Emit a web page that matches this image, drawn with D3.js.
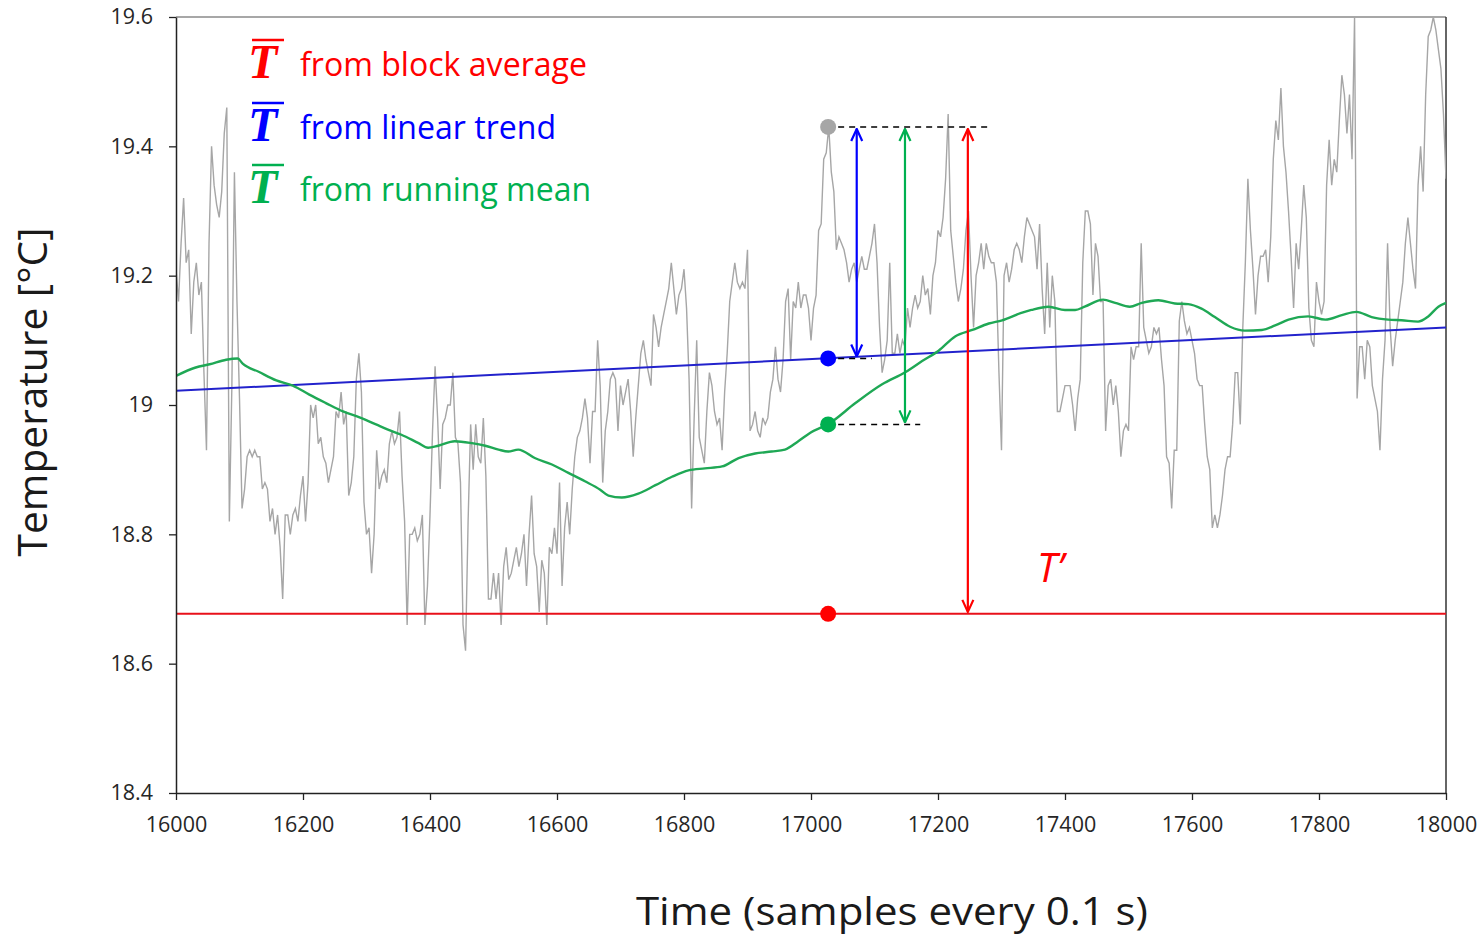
<!DOCTYPE html>
<html><head><meta charset="utf-8">
<script src="https://cdn.jsdelivr.net/npm/d3@7"></script>
<style>body{margin:0;background:#fff}svg{display:block}</style>
</head><body>
<svg id="chart" width="1482" height="941"></svg>
<script>
// ---------- DATA ----------
const sampleStart = 16000;
const sampleStep = 4;
const temperature = [
19.21,19.16,19.25,19.32,19.22,19.24,19.11,19.19,19.22,19.17,
19.19,19.05,18.93,19.25,19.40,19.34,19.31,19.29,19.33,19.42,
19.46,18.82,19.03,19.36,19.16,19.01,18.84,18.87,18.92,18.93,
18.92,18.93,18.92,18.92,18.87,18.88,18.87,18.82,18.84,18.80,
18.83,18.78,18.70,18.83,18.83,18.80,18.83,18.84,18.82,18.86,
18.89,18.82,18.88,19.00,18.98,19.00,18.94,18.95,18.92,18.91,
18.88,18.90,18.92,18.99,18.98,19.02,18.97,18.99,18.86,18.88,
18.92,19.04,19.08,19.02,18.85,18.80,18.81,18.74,18.80,18.93,
18.87,18.89,18.90,18.88,18.94,
18.96,18.94,18.95,18.99,18.89,18.82,18.66,18.80,18.80,18.81,
18.79,18.80,18.83,18.66,18.72,18.83,18.96,19.06,18.98,18.87,
18.97,18.98,19.00,19.00,19.05,18.95,18.94,18.88,18.66,18.62,
18.82,18.97,18.90,18.97,18.92,18.91,18.98,18.89,18.70,18.70,
18.74,18.70,18.74,18.66,18.75,18.78,18.73,18.74,18.76,18.78,
18.75,18.77,18.80,18.72,18.80,18.86,18.77,18.75,18.68,18.76,
18.74,18.66,18.78,18.77,18.81,18.77,18.88,18.72,18.81,18.85,
18.80,18.87,18.92,18.95,18.96,18.98,19.01,18.98,18.91,18.99,
18.99,19.10,19.03,
18.88,18.96,18.99,19.04,19.05,19.04,18.96,19.03,19.00,19.02,
19.04,18.99,18.92,18.98,19.03,19.08,19.10,19.07,19.05,19.03,
19.14,19.12,19.09,19.12,19.14,19.16,19.18,19.22,19.18,19.14,
19.17,19.18,19.21,19.15,19.04,18.84,18.98,19.10,18.95,18.93,
18.91,18.99,19.05,19.03,18.99,18.97,18.98,18.93,19.02,19.08,
19.16,19.19,19.22,19.19,19.18,19.19,19.18,19.24,18.96,18.97,
18.99,18.96,18.95,18.98,18.97,18.98,19.02,19.04,19.09,19.04,
19.02,19.07,19.16,19.18,19.07,19.16,19.15,19.19,19.15,19.17,
19.17,19.15,
19.10,19.15,19.17,19.27,19.28,19.38,19.39,19.43,19.36,19.33,
19.24,19.26,19.25,19.24,19.22,19.19,19.21,19.22,19.19,19.21,
19.23,19.21,19.21,19.23,19.25,19.28,19.22,19.12,19.05,19.07,
19.10,19.22,19.08,19.08,19.11,19.08,19.10,19.09,19.15,19.12,
19.15,19.17,19.15,19.16,19.20,19.17,19.18,19.14,19.20,19.22,
19.27,19.26,19.29,19.35,19.45,19.27,19.23,19.19,19.16,19.18,
19.21,19.27,19.30,19.20,19.12,19.20,19.22,19.25,19.21,19.25,
19.23,19.22,19.22,19.19,19.05,18.93,19.20,19.22,19.19,19.21,
19.24,19.25,19.24,
19.22,19.26,19.29,19.28,19.27,19.26,19.21,19.28,19.18,19.11,
19.22,19.12,19.20,19.16,18.99,18.99,19.01,19.03,19.03,19.03,
19.00,18.96,19.01,19.04,19.22,19.30,19.30,19.28,19.17,19.25,
19.23,19.16,19.16,18.96,19.03,19.04,19.00,19.03,18.99,18.92,
18.96,18.97,18.96,19.09,19.07,19.09,19.09,19.25,19.12,19.10,
19.08,19.09,19.12,19.11,19.12,19.07,19.03,18.92,18.91,18.84,
18.93,18.93,19.13,19.16,19.13,19.11,19.12,19.10,19.08,19.04,
19.03,19.03,18.97,18.92,18.90,18.81,18.83,18.81,18.83,18.86,
18.90,18.92,18.92,
18.97,19.05,19.05,18.97,19.12,19.22,19.35,19.27,19.21,19.14,
19.20,19.23,19.23,19.24,19.19,19.26,19.38,19.44,19.41,19.49,
19.40,19.36,19.30,19.23,19.15,19.25,19.21,19.27,19.34,19.29,
19.15,19.10,19.09,19.19,19.16,19.14,19.16,19.34,19.41,19.34,
19.38,19.36,19.44,19.51,19.48,19.42,19.48,19.38,19.60,19.01,
19.09,19.09,19.04,19.10,19.09,19.03,19.01,18.99,18.93,19.04,
19.10,19.25,19.12,19.06,19.10,19.13,19.16,19.19,19.25,19.29,
19.25,19.21,19.18,19.34,19.40,19.33,19.48,19.57,19.58,19.60,
19.58,19.55,19.52,19.45,19.35
];

const meanSamples = [16000,16031,16053,16079,16097,16105,16131,16158,16184,16210,16236,16263,16289,16315,16339,
  16355,16382,16397,16413,16439,16466,16487,16508,16523,16539,16565,16592,16618,16644,16668,
  16681,16702,16728,16755,16781,16807,16833,16860,16886,16912,16938,16959,16980,16999,
  17028,17070,17112,17149,17175,17201,17227,17254,17280,17301,17330,
  17347,17374,17400,17416,17431,17460,17479,17502,17521,17547,17573,17594,17615,17636,17660,
  17683,17710,17731,17752,17783,17810,17836,17859,17883,17909,17930,17956,17972,17988,18000];
const meanValues = [19.045,19.058,19.063,19.070,19.072,19.064,19.051,19.038,19.030,19.016,19.003,18.990,18.981,18.970,18.960,
  18.954,18.941,18.934,18.937,18.944,18.941,18.937,18.931,18.928,18.931,18.918,18.908,18.895,18.882,18.869,
  18.860,18.857,18.863,18.876,18.889,18.899,18.902,18.905,18.918,18.925,18.928,18.931,18.944,18.957,
  18.971,19.003,19.032,19.051,19.068,19.084,19.106,19.116,19.126,19.131,19.142,
  19.147,19.152,19.147,19.147,19.152,19.163,19.158,19.152,19.158,19.162,19.157,19.156,19.149,19.136,19.121,
  19.115,19.116,19.123,19.132,19.137,19.132,19.139,19.144,19.136,19.132,19.131,19.129,19.137,19.152,19.158];

const trendSamples = [16000, 18000];
const trendValues = [19.022, 19.120];
const blockAverage = 18.677;

// annotation values
const peakSample = 17027;
const peakValue = 19.43;
const trendAtPeak = 19.072;
const meanAtPeak = 18.970;
const arrowSamples = [17072, 17148, 17247];      // blue, green, red
const dashEndSamples = [17279, 17096, 17172];     // peak, trend, mean

const xTicks = [16000,16200,16400,16600,16800,17000,17200,17400,17600,17800,18000];
const yTicks = [18.4,18.6,18.8,19,19.2,19.4,19.6];
const yTickLabels = ["18.4","18.6","18.8","19","19.2","19.4","19.6"];

const legendLabels = ["from block average","from linear trend","from running mean"];
const legendColors = ["#ff0000","#0000ff","#00b050"];

// ---------- CHART ----------
(function(){
const svg = d3.select("#chart");
const pL = 176, pR = 1446, pT = 17, pB = 793;
const x = d3.scaleLinear().domain([16000, 18000]).range([pL, pR]);
const y = d3.scaleLinear().domain([18.4, 19.6]).range([pB, pT]);

const defs = svg.append("defs");
defs.append("clipPath").attr("id","plotclip")
  .append("rect").attr("x", pL).attr("y", pT).attr("width", pR-pL).attr("height", pB-pT);

[["blue","#0000ff"],["green","#00b050"],["red","#ff0000"]].forEach(([n,c])=>{
  defs.append("marker").attr("id","arr-"+n)
    .attr("viewBox","0 0 14 14").attr("refX",13).attr("refY",7)
    .attr("markerWidth",14).attr("markerHeight",14)
    .attr("markerUnits","userSpaceOnUse")
    .attr("orient","auto-start-reverse")
    .append("path").attr("d","M1,1.5 L13,7 L1,12.5")
    .attr("fill","none").attr("stroke",c).attr("stroke-width",2.2);
});

// frame
svg.append("line").attr("x1",pL).attr("x2",pR).attr("y1",pT).attr("y2",pT)
  .attr("stroke","#8a8a8a").attr("stroke-width",1.5);
svg.append("line").attr("x1",pR).attr("x2",pR).attr("y1",pT).attr("y2",pB)
  .attr("stroke","#333").attr("stroke-width",1.5);

const plot = svg.append("g").attr("clip-path","url(#plotclip)");

// gray raw series
const raw = temperature.map((v,i)=>[sampleStart + i*sampleStep, v]);
plot.append("path").datum(raw)
  .attr("d", d3.line().x(d=>x(d[0])).y(d=>y(d[1])))
  .attr("fill","none").attr("stroke","#a6a6a6").attr("stroke-width",1.4);

// block average
plot.append("line").attr("x1",x(16000)).attr("x2",x(18000))
  .attr("y1",y(blockAverage)).attr("y2",y(blockAverage))
  .attr("stroke","#e8101a").attr("stroke-width",2);

// linear trend
plot.append("path").datum(trendSamples.map((s,i)=>[s,trendValues[i]]))
  .attr("d", d3.line().x(d=>x(d[0])).y(d=>y(d[1])))
  .attr("fill","none").attr("stroke","#2222cc").attr("stroke-width",2);

// running mean
plot.append("path").datum(meanSamples.map((s,i)=>[s,meanValues[i]]))
  .attr("d", d3.line().curve(d3.curveMonotoneX).x(d=>x(d[0])).y(d=>y(d[1])))
  .attr("fill","none").attr("stroke","#1fa855").attr("stroke-width",2.4);

// dashed helper lines
const dashes = [[peakValue, dashEndSamples[0]],[trendAtPeak, dashEndSamples[1]],[meanAtPeak, dashEndSamples[2]]];
svg.selectAll(".dash").data(dashes).enter().append("line")
  .attr("x1", x(peakSample)+10).attr("x2", d=>x(d[1]))
  .attr("y1", d=>y(d[0])).attr("y2", d=>y(d[0]))
  .attr("stroke","#000").attr("stroke-width",1.5).attr("stroke-dasharray","6,5");

// arrows
const arrows = [
  {s:arrowSamples[0], to:trendAtPeak, c:"#0000ff", m:"blue"},
  {s:arrowSamples[1], to:meanAtPeak, c:"#00b050", m:"green"},
  {s:arrowSamples[2], to:blockAverage, c:"#ff0000", m:"red"}
];
svg.selectAll(".arrow").data(arrows).enter().append("line")
  .attr("x1", d=>x(d.s)).attr("x2", d=>x(d.s))
  .attr("y1", y(peakValue)+2).attr("y2", d=>y(d.to)-2)
  .attr("stroke", d=>d.c).attr("stroke-width",2.2)
  .attr("marker-start", d=>`url(#arr-${d.m})`)
  .attr("marker-end", d=>`url(#arr-${d.m})`);

// dots
const dots = [[peakValue,"#a6a6a6"],[trendAtPeak,"#0000ff"],[meanAtPeak,"#00b050"],[blockAverage,"#ff0000"]];
svg.selectAll(".dot").data(dots).enter().append("circle")
  .attr("cx", x(peakSample)).attr("cy", d=>y(d[0])).attr("r", 8)
  .attr("fill", d=>d[1]);

// axes
const font = "'Open Sans', 'Liberation Sans', sans-serif";
const xAxis = svg.append("g").attr("transform",`translate(0,${pB})`)
  .call(d3.axisBottom(x).tickValues(xTicks).tickSize(7).tickSizeOuter(0).tickPadding(17).tickFormat(d3.format("d")));
const yAxis = svg.append("g").attr("transform",`translate(${pL},0)`)
  .call(d3.axisLeft(y).tickValues(yTicks).tickSize(7).tickSizeOuter(0).tickPadding(16)
    .tickFormat((d,i)=>yTickLabels[i]));
[xAxis,yAxis].forEach(g=>{
  g.select(".domain").attr("stroke","#222").attr("stroke-width",1.5);
  g.selectAll(".tick line").attr("stroke","#222").attr("stroke-width",1.3);
  g.selectAll(".tick text").attr("fill","#262626").style("font-family",font).style("font-size","21.5px");
});

// axis titles
svg.append("text").attr("transform","translate(47,392) rotate(-90)")
  .attr("text-anchor","middle").attr("fill","#1a1a1a")
  .style("font-family",font).style("font-size","40px")
  .attr("textLength",329).attr("lengthAdjust","spacingAndGlyphs")
  .text("Temperature [°C]");
svg.append("text").attr("x",892).attr("y",925)
  .attr("text-anchor","middle").attr("fill","#1a1a1a")
  .style("font-family",font).style("font-size","38px")
  .attr("textLength",512).attr("lengthAdjust","spacingAndGlyphs")
  .text("Time (samples every 0.1 s)");

// legend
const legendBase = [77, 140, 202];
const legendWidths = [287, 256, 291];
const lg = svg.append("g");
legendLabels.forEach((lab,i)=>{
  const g = lg.append("g").attr("transform",`translate(0,${legendBase[i]})`);
  g.append("text").attr("x",248).attr("y",1)
    .attr("fill",legendColors[i])
    .style("font-family","'Liberation Serif','Times New Roman',serif")
    .style("font-size","48px").style("font-weight","bold").style("font-style","italic")
    .text("T");
  g.append("line").attr("x1",252).attr("x2",284).attr("y1",-37).attr("y2",-37)
    .attr("stroke",legendColors[i]).attr("stroke-width",2.5);
  g.append("text").attr("x",300).attr("y",-1)
    .attr("fill",legendColors[i])
    .style("font-family",font).style("font-size","33px")
    .attr("textLength",legendWidths[i]).attr("lengthAdjust","spacingAndGlyphs")
    .text(lab);
});

// T' label
svg.append("text").attr("x",1037).attr("y",582)
  .attr("fill","#ff0000").style("font-family",font).style("font-size","40px").style("font-style","italic")
  .text("T\u2019");
})();
</script>
</body></html>
